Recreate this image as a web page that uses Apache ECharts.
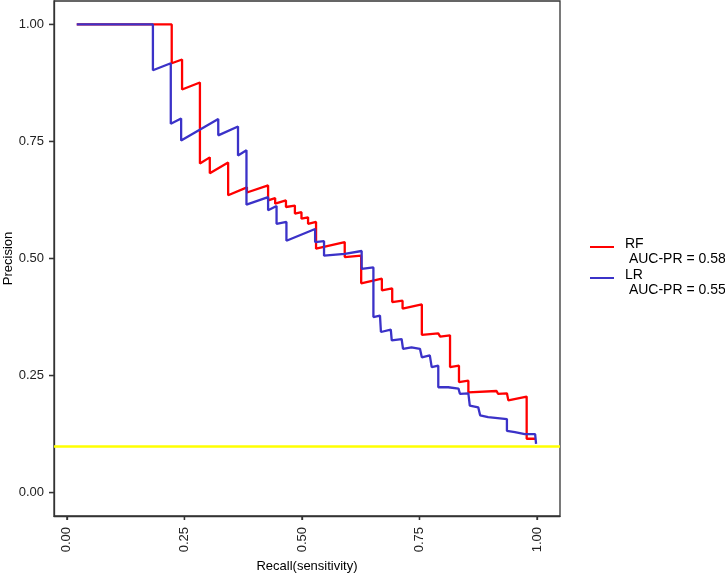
<!DOCTYPE html>
<html>
<head>
<meta charset="utf-8">
<script src="https://cdn.jsdelivr.net/npm/echarts@6/dist/echarts.min.js"></script>
<style>
html,body{margin:0;padding:0;background:#fff;}
#chart{width:725px;height:573px;}
</style>
</head>
<body>
<div id="chart"></div>
<script>
// ---- data ----
var seriesNames = ['RF', 'LR'];
var aucValues = ['0.58', '0.55'];
var tickValues = [0, 0.25, 0.5, 0.75, 1];
var baselinePrecision = 0.1;

var rfRecall = [0.021,0.223,0.223,0.245,0.245,0.283,0.283,0.304,0.304,0.343,0.343,0.383,0.383,0.428,0.428,0.443,0.443,0.466,0.466,0.485,0.485,0.499,0.499,0.513,0.513,0.530,0.530,0.591,0.591,0.626,0.626,0.670,0.670,0.692,0.692,0.714,0.714,0.755,0.755,0.790,0.794,0.815,0.815,0.834,0.834,0.854,0.854,0.914,0.917,0.936,0.939,0.978,0.978,0.996];
var rfPrecision = [1.000,1.000,0.917,0.925,0.861,0.876,0.703,0.716,0.682,0.705,0.635,0.652,0.641,0.656,0.624,0.629,0.617,0.624,0.610,0.613,0.596,0.599,0.585,0.588,0.574,0.578,0.521,0.535,0.503,0.506,0.447,0.457,0.432,0.436,0.407,0.410,0.393,0.402,0.337,0.340,0.333,0.336,0.268,0.271,0.236,0.239,0.214,0.217,0.211,0.212,0.197,0.205,0.115,0.115];

var lrRecall = [0.021,0.183,0.183,0.221,0.221,0.243,0.243,0.322,0.322,0.364,0.364,0.382,0.382,0.428,0.428,0.446,0.446,0.467,0.467,0.528,0.528,0.547,0.547,0.591,0.627,0.627,0.652,0.652,0.666,0.668,0.689,0.691,0.712,0.715,0.733,0.751,0.755,0.772,0.776,0.790,0.790,0.811,0.833,0.836,0.854,0.857,0.875,0.879,0.896,0.936,0.936,0.953,0.974,0.996,0.998];
var lrPrecision = [1.000,1.000,0.902,0.917,0.788,0.799,0.752,0.798,0.763,0.782,0.720,0.731,0.615,0.631,0.603,0.612,0.574,0.578,0.538,0.563,0.535,0.537,0.506,0.510,0.516,0.478,0.481,0.375,0.378,0.343,0.348,0.325,0.328,0.307,0.310,0.307,0.289,0.293,0.268,0.271,0.225,0.225,0.222,0.211,0.212,0.186,0.182,0.165,0.161,0.157,0.132,0.129,0.125,0.125,0.104];

var seriesColors = ['#FF0000', '#3B32C8'];

function pairs(xs, ys) {
  var out = [];
  for (var i = 0; i < xs.length; i++) out.push([xs[i], ys[i]]);
  return out;
}

var chart = echarts.init(document.getElementById('chart'), null, {renderer: 'canvas'});
var fontFam = '"Liberation Sans", Arial, sans-serif';
var fmt = function (v) { return v.toFixed(2); };

var option = {
  backgroundColor: '#ffffff',
  animation: false,
  textStyle: {fontFamily: fontFam},
  grid: {
    left: 54, right: 165, top: 1, bottom: 57,
    containLabel: false,
    outerBoundsMode: 'none',
    show: true, borderColor: '#333333', borderWidth: 1.3,
    backgroundColor: '#ffffff'
  },
  legend: {
    data: seriesNames,
    orient: 'vertical',
    left: 590, top: 237,
    padding: 0,
    itemGap: 1,
    itemWidth: 24, itemHeight: 12,
    icon: 'path://M0,0H24V2H0Z M0,11.9H0.05V12H0Z',
    selectedMode: false,
    formatter: function (name) {
      return name + '\n AUC-PR = ' + aucValues[seriesNames.indexOf(name)];
    },
    textStyle: {fontSize: 14, lineHeight: 15, color: '#000', fontFamily: fontFam, padding: [0, 0, 0, 6]}
  },
  xAxis: {
    type: 'value',
    min: -0.0274, max: 1.0489,
    name: 'Recall(sensitivity)',
    nameLocation: 'middle',
    nameGap: 44,
    nameMoveOverlap: false,
    nameTextStyle: {fontSize: 13, color: '#000', fontFamily: fontFam},
    axisLine: {show: true, onZero: false, lineStyle: {color: '#333', width: 1.3}},
    axisTick: {show: true, inside: false, length: 4, customValues: tickValues, lineStyle: {color: '#333', width: 1.3}},
    axisLabel: {customValues: tickValues, rotate: 90, margin: 11, fontSize: 13, color: '#222', formatter: fmt, fontFamily: fontFam},
    splitLine: {show: false}
  },
  yAxis: {
    type: 'value',
    min: -0.05, max: 1.05,
    name: 'Precision',
    nameLocation: 'middle',
    nameRotate: 90,
    nameGap: 39,
    nameMoveOverlap: false,
    nameTextStyle: {fontSize: 13, color: '#000', fontFamily: fontFam},
    axisLine: {show: true, onZero: false, lineStyle: {color: '#333', width: 1.3}},
    axisTick: {show: true, inside: false, length: 5, customValues: tickValues, lineStyle: {color: '#333', width: 1.3}},
    axisLabel: {customValues: tickValues, margin: 10, fontSize: 13, color: '#222', formatter: fmt, fontFamily: fontFam},
    splitLine: {show: false}
  },
  series: [
    {
      name: seriesNames[0], type: 'line',
      data: pairs(rfRecall, rfPrecision),
      showSymbol: false, symbol: 'none',
      color: seriesColors[0],
      lineStyle: {color: seriesColors[0], width: 2.3},
      z: 2,
      markLine: {
        silent: true, symbol: 'none',
        label: {show: false},
        lineStyle: {color: '#FFFF00', width: 2.5, type: 'solid'},
        data: [{yAxis: baselinePrecision}]
      }
    },
    {
      name: seriesNames[1], type: 'line',
      data: pairs(lrRecall, lrPrecision),
      showSymbol: false, symbol: 'none',
      color: seriesColors[1],
      lineStyle: {color: seriesColors[1], width: 2.3},
      z: 3
    }
  ]
};
chart.setOption(option);

// tick marks placed through the library's own axis scales
var gridRect = chart.getModel().getComponent('grid', 0).coordinateSystem.getRect();
var tickGraphics = [];
tickValues.forEach(function (v) {
  var px = chart.convertToPixel({xAxisIndex: 0}, v);
  var py = chart.convertToPixel({yAxisIndex: 0}, v);
  var bottom = gridRect.y + gridRect.height;
  var left = gridRect.x;
  tickGraphics.push({
    type: 'line', silent: true, z: 10,
    shape: {x1: px, y1: bottom, x2: px, y2: bottom + 4},
    style: {stroke: '#333', lineWidth: 1.3}
  });
  tickGraphics.push({
    type: 'line', silent: true, z: 10,
    shape: {x1: left - 5, y1: py, x2: left, y2: py},
    style: {stroke: '#333', lineWidth: 1.3}
  });
});
chart.setOption({graphic: tickGraphics});
</script>
</body>
</html>
